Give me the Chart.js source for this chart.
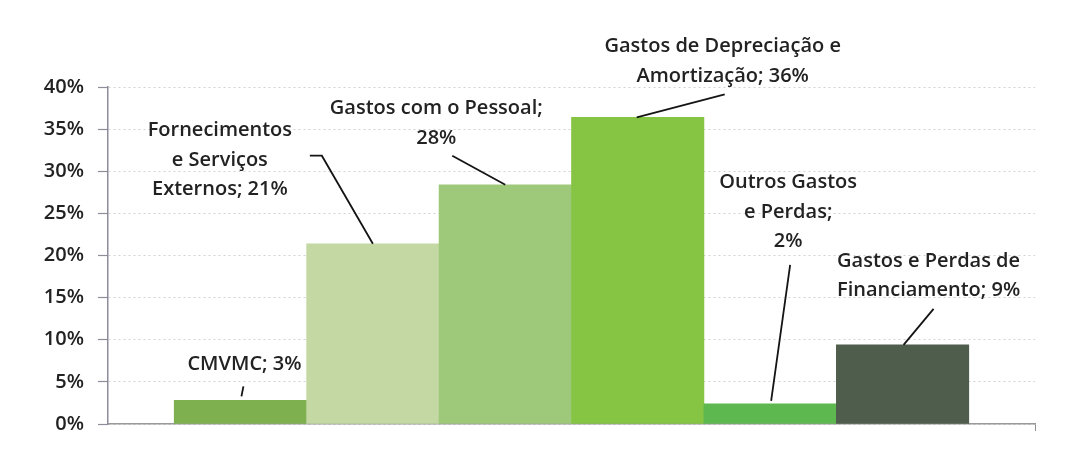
<!DOCTYPE html>
<html>
<head>
<meta charset="utf-8">
<script src="https://cdn.jsdelivr.net/npm/chart.js@4.4.1/dist/chart.umd.min.js"></script>
<style>
  html, body { margin: 0; padding: 0; background: #fff; }
  #wrap { width: 1086px; height: 450px; }
</style>
</head>
<body>
<div id="wrap"><canvas id="myChart" width="1086" height="450"></canvas></div>
<script>
// Estrutura de gastos (% do total)
const categories = [
  "CMVMC",
  "Fornecimentos e Serviços Externos",
  "Gastos com o Pessoal",
  "Gastos de Depreciação e Amortização",
  "Outros Gastos e Perdas",
  "Gastos e Perdas de Financiamento"
];
const values = [2.8, 21.4, 28.4, 36.4, 2.4, 9.4];
const barColors = ["#7fb04f", "#c3d8a2", "#9fc97a", "#86c443", "#5cb84f", "#4f5d4c"];
const yTicks = [0, 5, 10, 15, 20, 25, 30, 35, 40];

// words per line of each label, then where the text and its leader line sit
// relative to the top centre of the bar
const labelWrap = [[2], [1, 2, 2], [4, 1], [4, 2], [2, 2, 1], [4, 2]];
const labelPos = [
  { dx: 4, dy: -36, line: [[3, -14], [1, -4]] },
  { dx: -153, dy: -113, line: [[-63, -88], [-51, -88], [0, 0]] },
  { dx: -69, dy: -76, line: [[-53, -29], [0, 0]] },
  { dx: 85, dy: -71, line: [[87, -23], [-1, 0]] },
  { dx: 18, dy: -221, line: [[20, -139], [1, -3]] },
  { dx: 26, dy: -84, line: [[31, -36], [1, 0]] }
];

const FONT = "'Open Sans', Lato, sans-serif";

const barLabels = {
  id: 'barLabels',
  afterDatasetsDraw(chart) {
    const ctx = chart.ctx;
    const meta = chart.getDatasetMeta(0);
    meta.data.forEach((bar, i) => {
      const p = labelPos[i];
      // leader line
      ctx.save();
      ctx.strokeStyle = '#141414';
      ctx.lineWidth = 1.8;
      ctx.beginPath();
      p.line.forEach((pt, k) => {
        const x = bar.x + pt[0], y = bar.y + pt[1];
        if (k === 0) ctx.moveTo(x, y); else ctx.lineTo(x, y);
      });
      ctx.stroke();
      // text
      const words = (categories[i] + '; ' + Math.round(values[i]) + '%').split(' ');
      const lines = [];
      let w = 0;
      labelWrap[i].forEach(n => { lines.push(words.slice(w, w + n).join(' ')); w += n; });
      ctx.fillStyle = '#222';
      ctx.font = '600 20px ' + FONT;
      ctx.textAlign = 'center';
      ctx.textBaseline = 'middle';
      lines.forEach((t, k) => ctx.fillText(t, bar.x + p.dx, bar.y + p.dy + k * 29.5));
      ctx.restore();
    });
  }
};

new Chart(document.getElementById("myChart"), {
  type: 'bar',
  data: {
    datasets: [{
      data: values.map((v, i) => ({ x: i + 1, y: v })),
      backgroundColor: barColors,
      borderWidth: 0,
      barPercentage: 1,
      categoryPercentage: 1
    }]
  },
  options: {
    responsive: false,
    animation: false,
    layout: { padding: { top: 87, right: 51, bottom: 0, left: 0 } },
    plugins: {
      legend: { display: false },
      tooltip: { enabled: false }
    },
    scales: {
      x: {
        type: 'linear',
        offset: false,
        min: 0,
        max: 7,
        ticks: { display: false, stepSize: 1 },
        grid: {
          offset: false,
          drawOnChartArea: false,
          tickLength: 7,
          tickColor: c => (c.tick && c.tick.value === 7) ? '#8f8f8f' : 'rgba(0,0,0,0)'
        },
        border: { color: '#9a9a9a', width: 1.5 },
        afterFit: s => { s.height = 23; }
      },
      y: {
        min: 0,
        max: 40,
        afterBuildTicks: s => { s.ticks = yTicks.map(v => ({ value: v })); },
        ticks: {
          callback: v => v + '%',
          color: '#222',
          font: { family: FONT, size: 20, weight: '600' },
          padding: 14
        },
        grid: {
          color: '#d2d2d2',
          lineWidth: 1,
          tickLength: 10,
          tickColor: '#8c8c9a',
          tickWidth: 1.2
        },
        border: { color: '#8c8c9a', width: 1.5, dash: [2, 3] },
        afterFit: s => { s.width = 108; }
      }
    }
  },
  plugins: [barLabels]
});
</script>
</body>
</html>
